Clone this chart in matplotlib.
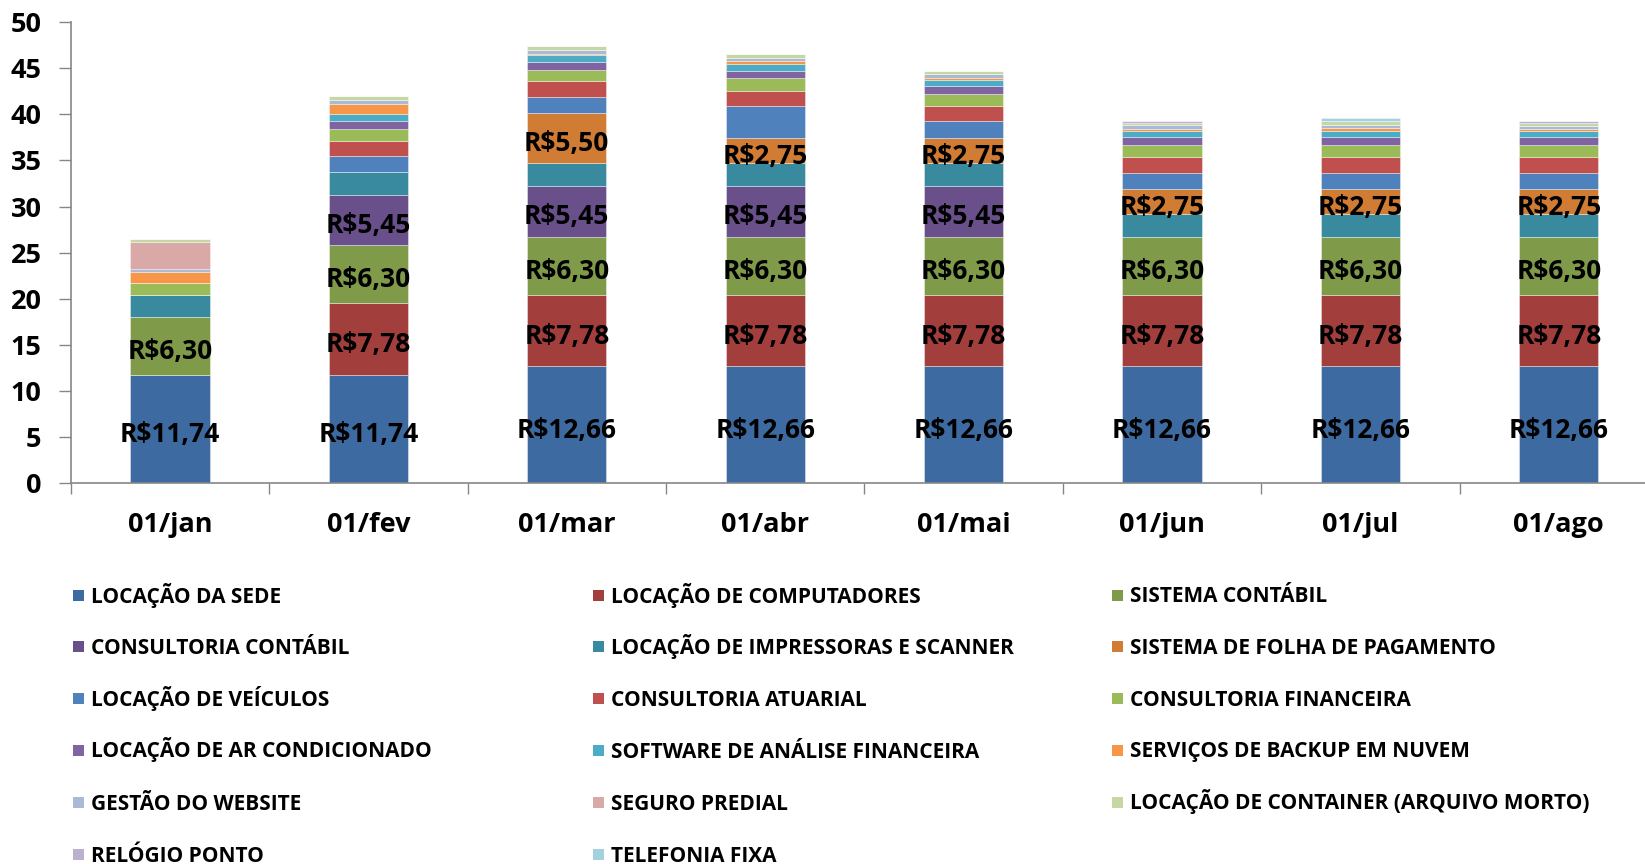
import numpy as np
import matplotlib
matplotlib.use('Agg')
import matplotlib.pyplot as plt
from matplotlib.patches import Rectangle

plt.rcParams['font.family'] = ['Open Sans', 'DejaVu Sans']

months = ['01/jan', '01/fev', '01/mar', '01/abr', '01/mai', '01/jun', '01/jul', '01/ago']

series_names = [
    'LOCAÇÃO DA SEDE', 'LOCAÇÃO DE COMPUTADORES', 'SISTEMA CONTÁBIL',
    'CONSULTORIA CONTÁBIL', 'LOCAÇÃO DE IMPRESSORAS E SCANNER', 'SISTEMA DE FOLHA DE PAGAMENTO',
    'LOCAÇÃO DE VEÍCULOS', 'CONSULTORIA ATUARIAL', 'CONSULTORIA FINANCEIRA',
    'LOCAÇÃO DE AR CONDICIONADO', 'SOFTWARE DE ANÁLISE FINANCEIRA', 'SERVIÇOS DE BACKUP EM NUVEM',
    'GESTÃO DO WEBSITE', 'SEGURO PREDIAL', 'LOCAÇÃO DE CONTAINER (ARQUIVO MORTO)',
    'RELÓGIO PONTO', 'TELEFONIA FIXA',
]

sede         = [11.74, 11.74, 12.66, 12.66, 12.66, 12.66, 12.66, 12.66]
computadores = [0, 7.78, 7.78, 7.78, 7.78, 7.78, 7.78, 7.78]
contabil     = [6.30, 6.30, 6.30, 6.30, 6.30, 6.30, 6.30, 6.30]
consult_cont = [0, 5.45, 5.45, 5.45, 5.45, 0, 0, 0]
impressoras  = [2.40, 2.45, 2.50, 2.50, 2.50, 2.40, 2.40, 2.40]
folha        = [0, 0, 5.50, 2.75, 2.75, 2.75, 2.75, 2.75]
veiculos     = [0, 1.75, 1.70, 3.50, 1.85, 1.77, 1.77, 1.77]
atuarial     = [0, 1.62, 1.69, 1.63, 1.63, 1.75, 1.75, 1.75]
financeira   = [1.27, 1.34, 1.26, 1.34, 1.26, 1.27, 1.27, 1.27]
ar_cond      = [0, 0.83, 0.87, 0.83, 0.90, 0.83, 0.83, 0.83]
software     = [0, 0.72, 0.70, 0.69, 0.65, 0.65, 0.72, 0.65]
backup       = [1.19, 1.16, 0.10, 0.33, 0.22, 0.22, 0.25, 0.22]
website      = [0.33, 0.39, 0.45, 0.36, 0.40, 0.43, 0.40, 0.40]
seguro       = [2.95, 0, 0, 0, 0, 0, 0, 0]
container    = [0.30, 0.43, 0.43, 0.40, 0.36, 0.22, 0.36, 0.30]
relogio      = [0, 0, 0, 0, 0, 0.25, 0, 0.20]
telefonia    = [0, 0, 0, 0, 0, 0, 0.33, 0]

data = [sede, computadores, contabil, consult_cont, impressoras, folha, veiculos, atuarial,
        financeira, ar_cond, software, backup, website, seguro, container, relogio, telefonia]

colors = ['#3d6aa0', '#a23f3c', '#7f9a48', '#69508a', '#3a8a9f', '#d07c34',
          '#4f81bd', '#c0504d', '#9bbb59', '#8064a2', '#4bacc6', '#f79646',
          '#a9b9d6', '#d9a9a8', '#c6d7a6', '#bcb0cf', '#a5d1df']

# series with value labels
labeled = [0, 1, 2, 3, 5]

W, H = 1645, 864
fig = plt.figure(figsize=(W / 100, H / 100), dpi=100)
ax = fig.add_axes([70.8 / W, 1 - 483.3 / H, (1658 - 70.8) / W, 461.3 / H])

x = np.arange(len(months))
bottom = np.zeros(len(months))
for i, vals in enumerate(data):
    vals = np.array(vals, dtype=float)
    ax.bar(x, vals, 0.40, bottom=bottom, color=colors[i],
           edgecolor=(1, 1, 1, 0.45), linewidth=0.6, zorder=2)
    if i in labeled:
        for xi, v, b in zip(x, vals, bottom):
            if v > 0:
                ax.text(xi, b + v / 2 - 0.6, 'R$' + f'{v:.2f}'.replace('.', ','),
                        ha='center', va='center', fontsize=19, fontweight='bold',
                        color='black', zorder=3)
    bottom += vals

ax.set_xlim(-0.5, 7.5)
ax.set_ylim(0, 50)
ax.set_yticks(np.arange(0, 51, 5))
ax.tick_params(axis='y', length=9, width=1, color='#868686', pad=12,
               labelsize=19.5)
for lab in ax.get_yticklabels():
    lab.set_fontweight('bold')

ax.set_xticks(np.arange(-0.5, 7.6, 1))
ax.set_xticklabels([])
ax.tick_params(axis='x', which='major', length=8, width=1, color='#868686')
ax.set_xticks(x, minor=True)
ax.set_xticklabels(months, minor=True, fontsize=19.5, fontweight='bold')
ax.tick_params(axis='x', which='minor', length=0, pad=21)

for s in ['top', 'right']:
    ax.spines[s].set_visible(False)
for s in ['left', 'bottom']:
    ax.spines[s].set_color('#868686')
    ax.spines[s].set_linewidth(1.2)

# legend laid out row by row, three columns
row_y = [595, 646.5, 698.5, 750, 802, 854]
col_x = [73, 593, 1112]
for i, name in enumerate(series_names):
    r, c = divmod(i, 3)
    mx, my = col_x[c], row_y[r]
    fig.add_artist(Rectangle((mx / W, 1 - (my + 5.5) / H), 11 / W, 11 / H,
                             transform=fig.transFigure, facecolor=colors[i],
                             edgecolor='none'))
    fig.text((mx + 18) / W, 1 - (my + 7.5) / H, name, ha='left', va='baseline',
             fontsize=15, fontweight='bold', color='black')

fig.savefig('out.png', dpi=100)
